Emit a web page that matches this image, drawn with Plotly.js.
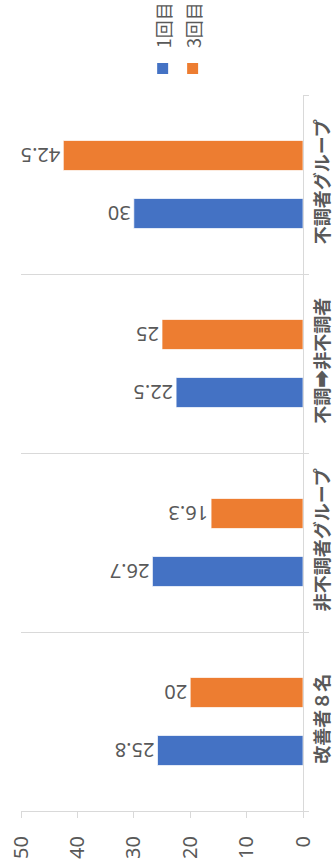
<!DOCTYPE html>
<html>
<head>
<meta charset="utf-8">
<script src="https://cdn.plot.ly/plotly-3.0.1.min.js"></script>
<style>html,body{margin:0;padding:0;background:#fff;}#chart{width:336px;height:868px;}</style>
</head>
<body>
<div id="chart"></div>
<script>
const categories = ['改善者８名', '非不調者グループ', '不調➡非不調者', '不調者グループ'];
const seriesNames = ['1回目', '3回目'];
const round1 = [25.8, 26.7, 22.5, 30];
const round3 = [20, 16.3, 25, 42.5];
const valueTicks = [0, 10, 20, 30, 40, 50];

const FONT = '"Noto Sans CJK JP", "Noto Sans", sans-serif';
const NUMFONT = '"Noto Sans", "Noto Sans CJK JP", sans-serif';
const GREY = '#595959';
const colors = ['#4472C4', '#ED7D31'];

function barTrace(vals, i) {
  return {
    type: 'bar', orientation: 'h', name: seriesNames[i],
    y: categories, x: vals,
    text: vals.map(v => String(v)), textposition: 'outside', textangle: 180,
    constraintext: 'none', cliponaxis: false,
    textfont: {family: NUMFONT, size: 20, color: GREY, weight: 'normal'},
    marker: {color: colors[i], line: {color: 'rgba(255,255,255,0.7)', width: 1}},
    hoverinfo: 'skip'
  };
}

const L = 20.7, R = 303, T = 95, B = 811;
const pw = R - L, ph = B - T;
const px = v => (v - L) / pw;
const py = v => (B - v) / ph;

const legendX = [163, 193];
const legendSq = [[157, 168], [187, 198]];

const layout = {
  width: 336, height: 868,
  margin: {l: L, r: 336 - R, t: T, b: 868 - B, pad: 0},
  paper_bgcolor: '#fff', plot_bgcolor: '#fff',
  showlegend: false,
  barmode: 'group', bargap: 0.352, bargroupgap: 0.483,
  font: {family: FONT, color: GREY},
  xaxis: {
    range: [50, 0], tickvals: valueTicks, ticktext: valueTicks.map(String),
    showgrid: false, zeroline: false,
    showline: true, linecolor: '#d9d9d9', linewidth: 1,
    ticks: 'outside', ticklen: 6, tickcolor: '#d9d9d9', tickwidth: 1,
    tickangle: -90, ticklabelstandoff: 10,
    tickfont: {family: NUMFONT, size: 20, color: GREY, weight: 'normal'}
  },
  yaxis: {
    type: 'category', categoryorder: 'array', categoryarray: categories,
    side: 'right', tickson: 'boundaries',
    showgrid: true, gridcolor: '#d9d9d9', gridwidth: 1,
    showline: true, linecolor: '#d9d9d9', linewidth: 1,
    ticks: 'outside', ticklen: 5, tickcolor: '#d9d9d9', tickwidth: 1,
    tickangle: -90, ticklabelstandoff: 3,
    tickfont: {family: FONT, size: 18, color: GREY, weight: 'bold'}
  },
  shapes: legendSq.map((s, i) => ({
    type: 'rect', xref: 'paper', yref: 'paper',
    x0: px(s[0]), x1: px(s[1]), y0: py(74), y1: py(63),
    fillcolor: colors[i], line: {width: 0}
  })),
  annotations: legendX.map((x, i) => ({
    xref: 'paper', yref: 'paper', x: px(x), y: py(50),
    xanchor: 'center', yanchor: 'bottom', textangle: -90,
    text: seriesNames[i], showarrow: false,
    font: {family: FONT, size: 18, color: GREY}
  }))
};

Plotly.newPlot('chart', [barTrace(round1, 0), barTrace(round3, 1)], layout, {staticPlot: true});
</script>
</body>
</html>
